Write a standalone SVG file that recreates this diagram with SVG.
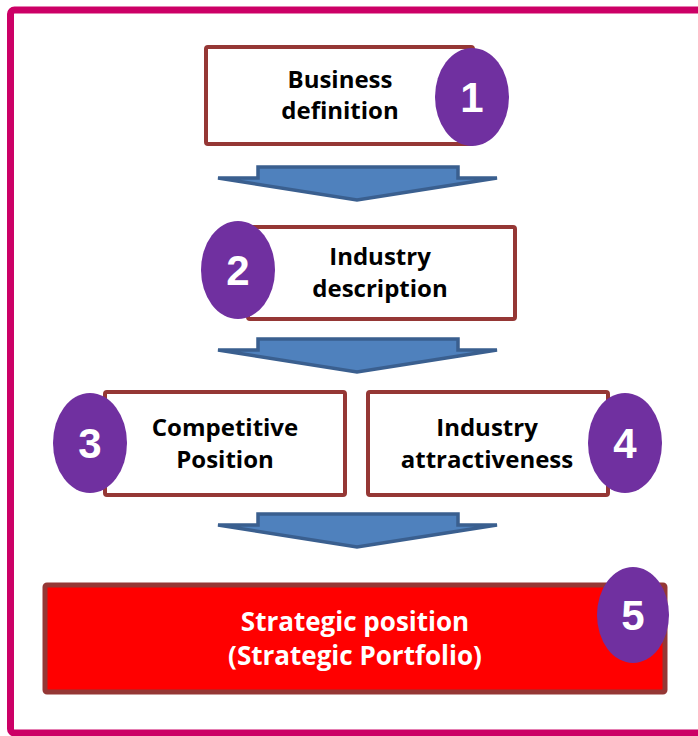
<svg xmlns="http://www.w3.org/2000/svg" width="698" height="736" viewBox="0 0 698 736">
<style>
.frame{fill:#fff;stroke:#CC0066;stroke-width:7}
.box{fill:#fff;stroke:#953735;stroke-width:4}
.box5{fill:#FF0000;stroke:#953735;stroke-width:5}
.badge{fill:#7030A0}
.lbl{font-family:"Open Sans","Liberation Sans",sans-serif;font-weight:bold;font-size:24px;fill:#000;text-anchor:middle}
.lblw{font-family:"Open Sans","Liberation Sans",sans-serif;font-weight:bold;font-size:26px;fill:#fff;text-anchor:middle}
.num{font-family:"Liberation Sans",Arial,sans-serif;font-weight:bold;font-size:42px;fill:#fff;text-anchor:middle}
.arr{fill:#4F81BD;stroke:#3A5F8F;stroke-width:3.5;stroke-linejoin:miter}
</style>
<defs>
<polygon id="down" class="arr" points="-99,-17 101,-17 101,-6 140,-6 0,16 -139,-6 -99,-6"/>
</defs>
<rect class="frame" x="10.5" y="10" width="700" height="723" rx="4"/>
<g id="connectors">
<use href="#down" x="357" y="184"/>
<use href="#down" x="357" y="356"/>
<use href="#down" x="357" y="531"/>
</g>
<g id="node1">
<rect class="box" x="206" y="47" width="267" height="97" rx="2"/>
<text class="lbl" x="340" y="88">Business</text>
<text class="lbl" x="340" y="119">definition</text>
<ellipse class="badge" cx="472" cy="97" rx="37" ry="49"/>
<text class="num" x="472" y="112">1</text>
</g>
<g id="node2">
<rect class="box" x="248" y="227" width="267" height="92" rx="2"/>
<text class="lbl" x="380" y="265">Industry</text>
<text class="lbl" x="380" y="297">description</text>
<ellipse class="badge" cx="238" cy="270" rx="37" ry="49"/>
<text class="num" x="238" y="285">2</text>
</g>
<g id="node3">
<rect class="box" x="105" y="392" width="240" height="103" rx="2"/>
<text class="lbl" x="225" y="436">Competitive</text>
<text class="lbl" x="225" y="468">Position</text>
<ellipse class="badge" cx="90" cy="443" rx="37" ry="50"/>
<text class="num" x="90" y="458">3</text>
</g>
<g id="node4">
<rect class="box" x="368" y="392" width="240" height="103" rx="2"/>
<text class="lbl" x="487" y="436">Industry</text>
<text class="lbl" x="487" y="468">attractiveness</text>
<ellipse class="badge" cx="625" cy="443" rx="37" ry="50"/>
<text class="num" x="625" y="458">4</text>
</g>
<g id="node5">
<rect class="box5" x="45" y="585" width="620" height="107" rx="2"/>
<text class="lblw" x="355" y="631">Strategic position</text>
<text class="lblw" x="355" y="665">(Strategic Portfolio)</text>
<ellipse class="badge" cx="633" cy="615" rx="36" ry="48"/>
<text class="num" x="633" y="630">5</text>
</g>
</svg>
